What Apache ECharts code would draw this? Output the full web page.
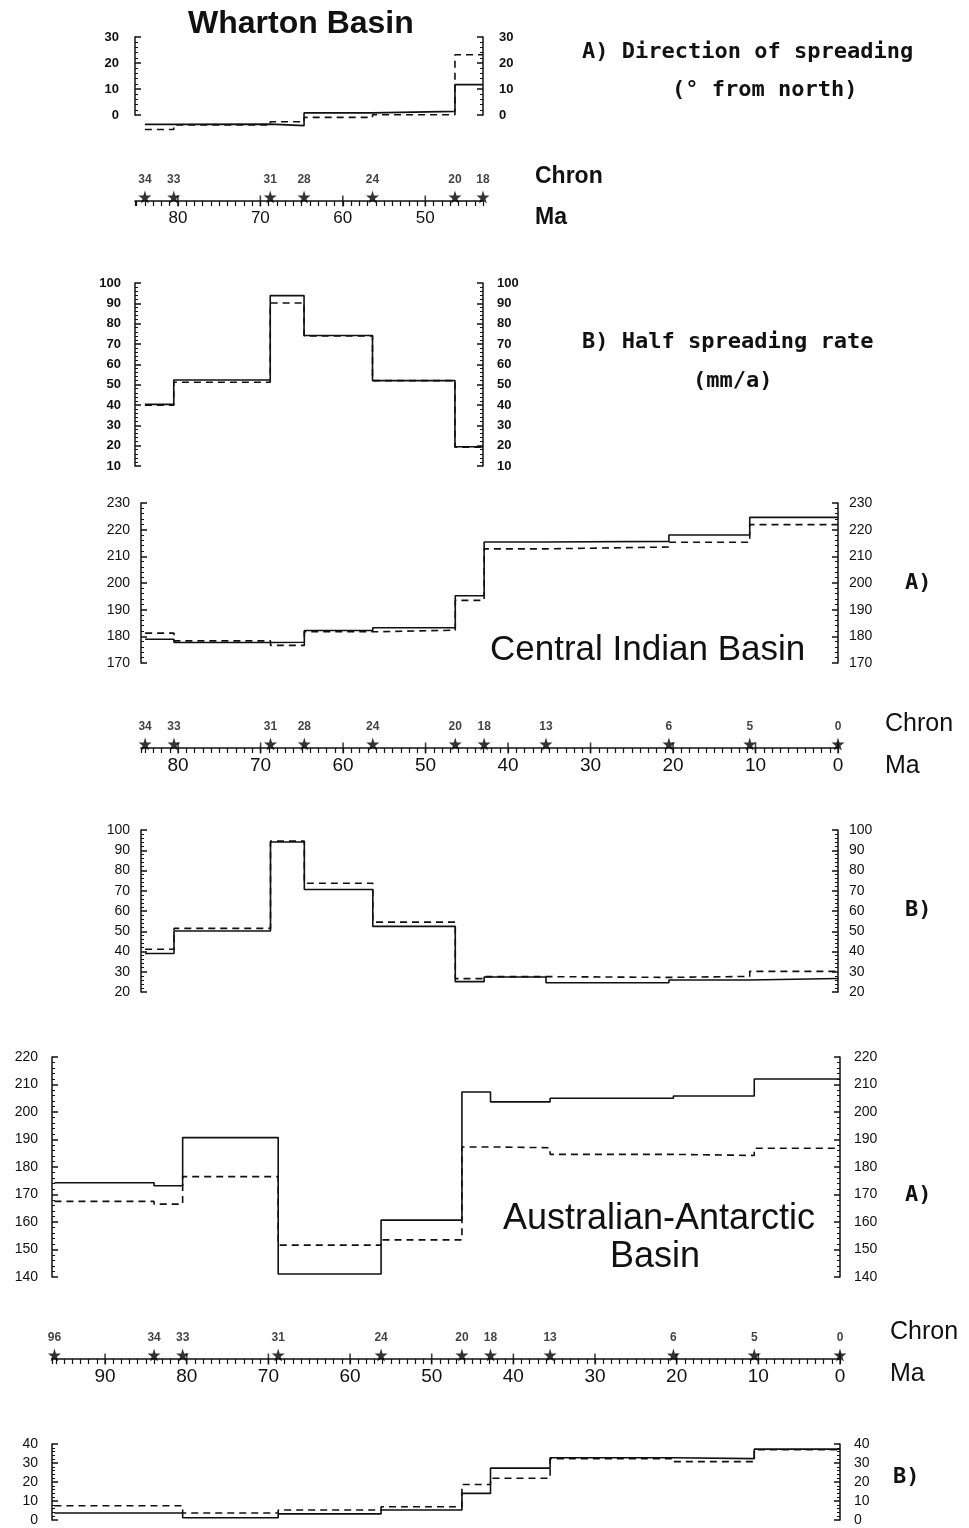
<!DOCTYPE html>
<html>
<head>
<meta charset="utf-8">
<script src="https://cdn.jsdelivr.net/npm/echarts@6/dist/echarts.min.js"></script>
<style>
html, body { margin: 0; padding: 0; background: #fff; }
#chart { width: 969px; height: 1528px; }
</style>
</head>
<body>
<div id="chart"></div>
<script>
// Wharton Basin (chrons 34 -> 18)
const whartonChrons = ["34", "33", "31", "28", "24", "20", "18"];
const whartonAges = [84.0, 80.5, 68.8, 64.7, 56.4, 46.4, 43.0];
const whartonDirSolid = [-3.6, -3.5, -4.1, 0.8, 1.4, 11.7];
const whartonDirDashed = [-5.6, -3.8, -2.6, -0.9, 0.1, 23.2];
const whartonRateSolid = [40.3, 52.3, 93.8, 74.2, 52.0, 19.5];
const whartonRateDashed = [39.9, 51.2, 90.2, 74.0, 52.0, 19.2];

// Central Indian Basin (chrons 34 -> 0)
const centralChrons = ["34", "33", "31", "28", "24", "20", "18", "13", "6", "5", "0"];
const centralAges = [84.0, 80.5, 68.8, 64.7, 56.4, 46.4, 42.9, 35.4, 20.5, 10.7, 0];
const centralDirSolid = [178.9, 177.7, 177.8, 182.2, 183.2, 195.2, 215.4, 215.6, 218.0, 224.6];
const centralDirDashed = [181.2, 178.3, 176.6, 181.7, 182.3, 193.5, 212.8, 213.5, 215.3, 221.9];
const centralRateSolid = [39.0, 50.1, 94.1, 70.6, 52.4, 25.1, 27.4, 24.6, 25.9, 26.7];
const centralRateDashed = [41.1, 51.4, 94.5, 73.7, 54.5, 26.6, 27.6, 27.2, 27.7, 30.2];

// Australian-Antarctic Basin (chrons 96 -> 0)
const aaChrons = ["96", "34", "33", "31", "24", "20", "18", "13", "6", "5", "0"];
const aaAges = [96.2, 84.0, 80.5, 68.8, 56.2, 46.3, 42.8, 35.5, 20.4, 10.5, 0];
const aaDirSolid = [174.3, 173.2, 190.7, 141.1, 160.7, 207.3, 203.7, 205.0, 205.8, 212.0];
const aaDirDashed = [167.5, 166.5, 176.5, 151.6, 153.5, 187.3, 187.0, 184.6, 184.2, 186.8];
const aaRateSolid = [3.7, 3.7, 1.2, 3.2, 5.3, 14.0, 27.3, 32.8, 32.3, 37.3];
const aaRateDashed = [7.5, 7.5, 3.7, 5.3, 7.0, 18.7, 22.0, 32.3, 30.7, 37.0];

// Ma tick labels on the chron axes
const whartonMaTicks = [80, 70, 60, 50];
const centralMaTicks = [80, 70, 60, 50, 40, 30, 20, 10, 0];
const aaMaTicks = [90, 80, 70, 60, 50, 40, 30, 20, 10, 0];

const INK = "#111";
const STAR = "path://M50,0 L61,35 L98,35 L68,57 L79,91 L50,70 L21,91 L32,57 L2,35 L39,35 Z";

const grids = [];
const xAxes = [];
const yAxes = [];
const series = [];

// step line points: one value per interval between consecutive ages
const stepData = (ages, values) => {
    const pts = values.map((v, i) => [ages[i], v]);
    pts.push([ages[values.length], values[values.length - 1]]);
    return pts;
};

const addPanel = (p) => {
    const gi = grids.length;
    grids.push({ left: p.left, top: p.top, width: p.width, height: p.height });
    xAxes.push({ gridIndex: gi, type: "value", min: p.xMin, max: p.xMax, inverse: true, show: false });
    const yi = yAxes.length;
    const label = {
        color: INK,
        fontSize: p.fontSize || 14,
        fontFamily: "Liberation Sans",
        fontWeight: p.bold ? "bold" : "normal",
        margin: p.labelMargin || 12
    };
    const base = {
        gridIndex: gi,
        type: "value",
        min: p.yMin,
        max: p.yMax,
        interval: 10,
        splitLine: { show: false },
        axisLine: { show: true, onZero: false, lineStyle: { color: INK, width: 1.5 } },
        axisTick: { show: true, inside: true, length: 6, lineStyle: { color: INK, width: 1.5 } },
        minorTick: { show: true, splitNumber: 5, length: 3, lineStyle: { color: INK, width: 1 } },
        axisLabel: label
    };
    yAxes.push(Object.assign({}, base, { position: "left" }));
    yAxes.push(Object.assign({}, base, { position: "right" }));
    const line = (vals, dashed) => ({
        type: "line",
        xAxisIndex: gi,
        yAxisIndex: yi,
        data: stepData(p.ages, vals),
        step: "end",
        symbol: "none",
        clip: false,
        silent: true,
        lineStyle: { color: INK, width: 1.6, type: dashed ? [7, 5] : "solid" }
    });
    series.push(line(p.dashed, true), line(p.solid, false));
};

const addChronAxis = (p) => {
    const gi = grids.length;
    grids.push({ left: p.left, top: p.lineY - 10, width: p.width, height: 10 });
    xAxes.push({
        gridIndex: gi,
        type: "value",
        min: p.xMin,
        max: p.xMax,
        inverse: true,
        interval: 1,
        splitLine: { show: false },
        axisLine: { show: true, onZero: false, lineStyle: { color: INK, width: 1.6 } },
        axisTick: { show: true, length: 5, lineStyle: { color: INK, width: 1.2 } },
        axisLabel: {
            color: INK,
            fontSize: p.maSize,
            fontFamily: "Liberation Sans",
            fontWeight: p.bold ? "bold" : "normal",
            margin: p.maMargin,
            formatter: (v) => (p.maTicks.indexOf(v) >= 0 ? String(v) : "")
        }
    });
    const yi = yAxes.length;
    yAxes.push({ gridIndex: gi, type: "value", min: 0, max: 1, show: false });
    series.push({
        type: "scatter",
        xAxisIndex: gi,
        yAxisIndex: yi,
        silent: true,
        symbol: "rect",
        symbolSize: [1.6, 11],
        itemStyle: { color: INK },
        data: p.maTicks.map((v) => [v, 0])
    });
    series.push({
        type: "scatter",
        xAxisIndex: gi,
        yAxisIndex: yi,
        silent: true,
        symbol: STAR,
        symbolSize: 13,
        symbolOffset: [0, -4],
        itemStyle: { color: "#000" },
        label: {
            show: true,
            position: "top",
            distance: 5,
            formatter: "{b}",
            color: INK,
            fontSize: 12,
            fontWeight: "bold",
            fontFamily: "Liberation Sans"
        },
        data: p.ages.map((a, i) => ({ name: p.chrons[i], value: [a, 0] }))
    });
};

// ---- Wharton Basin ----
const wLeft = 135, wWidth = 348;
addPanel({
    left: wLeft, top: 37, width: wWidth, height: 78, xMin: 43.0, xMax: 85.2,
    yMin: 0, yMax: 30, ages: whartonAges, solid: whartonDirSolid, dashed: whartonDirDashed,
    bold: true, fontSize: 13, labelMargin: 16
});
addChronAxis({
    left: wLeft, width: wWidth, lineY: 201, xMin: 43.0, xMax: 85.2,
    ages: whartonAges, chrons: whartonChrons, maTicks: whartonMaTicks, maSize: 17, maMargin: 9
});
addPanel({
    left: wLeft, top: 283, width: wWidth, height: 183, xMin: 43.0, xMax: 85.2,
    yMin: 10, yMax: 100, ages: whartonAges, solid: whartonRateSolid, dashed: whartonRateDashed,
    bold: true, fontSize: 13, labelMargin: 14
});

// ---- Central Indian Basin ----
const cLeft = 141, cWidth = 697;
addPanel({
    left: cLeft, top: 503, width: cWidth, height: 160, xMin: 0, xMax: 84.5,
    yMin: 170, yMax: 230, ages: centralAges, solid: centralDirSolid, dashed: centralDirDashed,
    fontSize: 14, labelMargin: 11
});
addChronAxis({
    left: cLeft, width: cWidth, lineY: 748, xMin: 0, xMax: 84.5,
    ages: centralAges, chrons: centralChrons, maTicks: centralMaTicks, maSize: 19, maMargin: 8
});
addPanel({
    left: cLeft, top: 830, width: cWidth, height: 162, xMin: 0, xMax: 84.5,
    yMin: 20, yMax: 100, ages: centralAges, solid: centralRateSolid, dashed: centralRateDashed,
    fontSize: 14, labelMargin: 11
});

// ---- Australian-Antarctic Basin ----
const aLeft = 52, aWidth = 788;
addPanel({
    left: aLeft, top: 1057, width: aWidth, height: 220, xMin: 0, xMax: 96.5,
    yMin: 140, yMax: 220, ages: aaAges, solid: aaDirSolid, dashed: aaDirDashed,
    fontSize: 14, labelMargin: 14
});
addChronAxis({
    left: aLeft, width: aWidth, lineY: 1359, xMin: 0, xMax: 96.5,
    ages: aaAges, chrons: aaChrons, maTicks: aaMaTicks, maSize: 19, maMargin: 8
});
addPanel({
    left: aLeft, top: 1444, width: aWidth, height: 76, xMin: 0, xMax: 96.5,
    yMin: 0, yMax: 40, ages: aaAges, solid: aaRateSolid, dashed: aaRateDashed,
    fontSize: 14, labelMargin: 14
});

// free text
const txt = (text, x, y, size, opts) => Object.assign({
    type: "text",
    x: x,
    y: y,
    silent: true,
    style: Object.assign({
        text: text,
        fill: INK,
        fontSize: size,
        fontFamily: "Liberation Sans",
        align: "left",
        verticalAlign: "middle"
    }, opts || {})
});
const mono = { fontFamily: "DejaVu Sans Mono", fontWeight: "bold" };
const graphics = [
    txt("Wharton Basin", 188, 24, 32, { fontWeight: "bold" }),
    txt("A) Direction of spreading", 582, 52, 22, mono),
    txt("(° from north)", 672, 90, 22, mono),
    txt("Chron", 535, 177, 23, { fontWeight: "bold" }),
    txt("Ma", 535, 218, 23, { fontWeight: "bold" }),
    txt("B) Half spreading rate", 582, 342, 22, mono),
    txt("(mm/a)", 693, 381, 22, mono),
    txt("A)", 905, 583, 22, mono),
    txt("Central Indian Basin", 490, 650, 35),
    txt("Chron", 885, 724, 25),
    txt("Ma", 885, 766, 25),
    txt("B)", 905, 910, 22, mono),
    txt("A)", 905, 1195, 22, mono),
    txt("Australian-Antarctic", 503, 1219, 36),
    txt("Basin", 610, 1257, 36),
    txt("Chron", 890, 1332, 25),
    txt("Ma", 890, 1374, 25),
    txt("B)", 893, 1477, 22, mono)
];

const chart = echarts.init(document.getElementById("chart"));
chart.setOption({
    animation: false,
    backgroundColor: "#fff",
    grid: grids,
    xAxis: xAxes,
    yAxis: yAxes,
    series: series,
    graphic: graphics
});
</script>
</body>
</html>
